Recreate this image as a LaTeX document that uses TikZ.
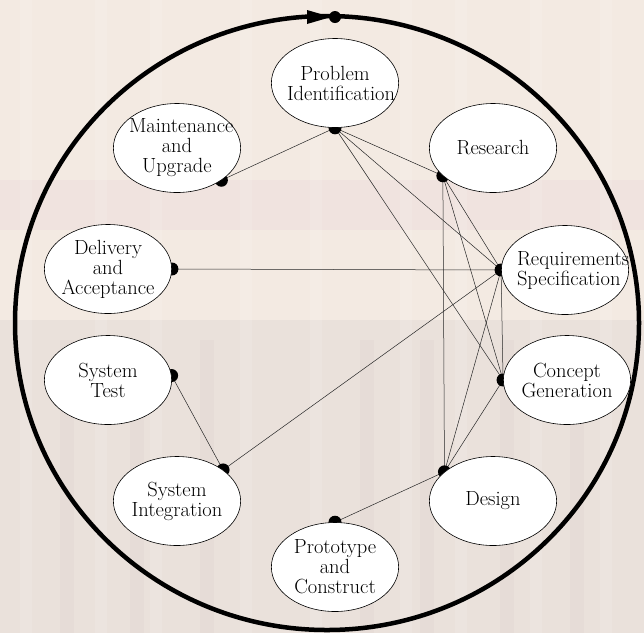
\documentclass[tikz,border=0pt]{standalone}
\usetikzlibrary{shapes.geometric, calc}
\definecolor{carta}{RGB}{243,234,226}
\definecolor{rosa}{RGB}{236,216,218}
\definecolor{grigio}{RGB}{226,218,213}
\pgfdeclarelayer{sfondo}
\pgfdeclarelayer{archi}
\pgfsetlayers{sfondo,archi,main}
\tikzset{
  fase/.style={ellipse, draw, line width=0.6pt, fill=white, minimum width=127pt, minimum height=89pt,
    text width=96pt, inner xsep=-3pt, inner ysep=0pt, align=center,
    font=\fontsize{20.5}{20}\selectfont},
  arco/.style={line width=0.5pt, black!85},
  pallino/.style={fill=black}
}

\begin{document}
\begin{tikzpicture}[x=1pt,y=-1pt]
        \useasboundingbox (0,0) rectangle (644,633);
        %sfondo sfumato
        \begin{pgfonlayer}{sfondo}
        \fill[carta] (0,0) rectangle (644,633);
        \fill[rosa,opacity=0.35] (0,180) rectangle (644,230);
        \fill[grigio,opacity=0.5] (0,320) rectangle (644,633);
        \foreach \xs in {20,95,150,240,310,400,455,530,600}
            \fill[white,opacity=0.12] (\xs,0) rectangle ++(12,633);
        \foreach \xs in {60,130,200,360,420,500,570}
            \fill[rosa!70!gray,opacity=0.12] (\xs,340) rectangle ++(14,293);
        \end{pgfonlayer}
        %ciclo di vita
        \draw[line width=4.5pt] (327,323) ellipse [x radius=312, y radius=307];
        \fill (307,10) -- (331,17) -- (307,24) -- cycle;
        \fill (335,17) circle (6);
        %fasi del progetto
        \node[fase] (PI) at (335,83) {Problem\\Identification};
        \node[fase] (MU) at (177,148) {Maintenance\\and\\Upgrade};
        \node[fase] (R) at (493,148) {Research};
        \node[fase] (RS) at (565,270) {Requirements\\Specification};
        \node[fase] (DA) at (108,269) {Delivery\\and\\Acceptance};
        \node[fase] (CG) at (567,380) {Concept\\Generation};
        \node[fase] (ST) at (108,380) {System\\Test};
        \node[fase] (SI) at (177,501) {System\\Integration};
        \node[fase] (D) at (493,501) {Design};
        \node[fase] (PC) at (335,567) {Prototype\\and\\Construct};
        %punti di attacco
        \coordinate (PIa) at (PI.south);
        \coordinate (MUa) at (MU.-36);
        \coordinate (Ra) at (R.-151);
        \coordinate (RSa) at (RS.west);
        \coordinate (DAa) at (DA.east);
        \coordinate (CGa) at (CG.west);
        \coordinate (STa) at (ST.4);
        \coordinate (SIa) at (SI.34);
        \coordinate (Da) at (D.149);
        \coordinate (PCa) at (PC.north);
        %collegamenti
        \begin{pgfonlayer}{archi}
        \draw[arco] (PIa) -- (MUa);
        \draw[arco] (PIa) -- (Ra);
        \draw[arco] (PIa) -- (RSa);
        \draw[arco] (PIa) -- (CGa);
        \draw[arco] (Ra) -- (RSa);
        \draw[arco] (Ra) -- (CGa);
        \draw[arco] (Ra) -- (Da);
        \draw[arco] (RSa) -- (DAa);
        \draw[arco] (RSa) -- (CGa);
        \draw[arco] (RSa) -- (Da);
        \draw[arco] (RSa) -- (SIa);
        \draw[arco] (CGa) -- (Da);
        \draw[arco] (Da) -- (PCa);
        \draw[arco] (STa) -- (SIa);
        \foreach \p in {PIa,MUa,Ra,RSa,DAa,CGa,STa,SIa,Da,PCa}
            \fill[pallino] (\p) circle (6.5);
        \end{pgfonlayer}
    \end{tikzpicture}
\end{document}
